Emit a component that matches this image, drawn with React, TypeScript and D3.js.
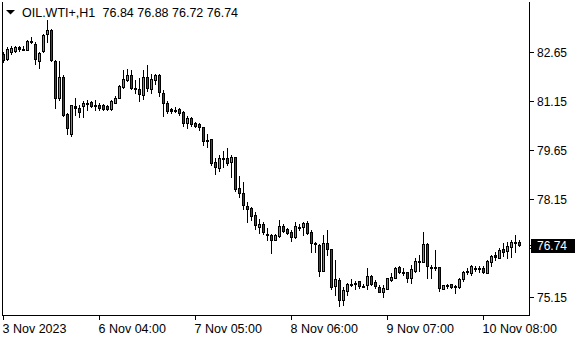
import React from "react";
import * as d3 from "d3";

const symbolLabel = "OIL.WTI+,H1";
const ohlcLabel = "76.84 76.88 76.72 76.74";
const lastPrice = 76.74;

const opens = [
  82.58, 82.43, 82.66, 82.69, 82.79, 82.75, 82.72, 82.99, 82.90, 82.38,
  82.67, 83.19, 83.31, 82.38, 81.23, 81.88, 80.74, 80.13, 81.00, 80.94,
  81.00, 81.05, 81.11, 81.03, 81.04, 81.02, 81.00, 80.89, 81.10, 81.24,
  81.58, 81.78, 81.94, 81.56, 81.53, 81.34, 81.87, 81.52, 81.78, 81.94,
  81.41, 81.09, 80.89, 80.86, 80.89, 80.80, 80.48, 80.64, 80.48, 80.44,
  80.34, 79.97, 79.98, 79.27, 79.11, 79.39, 79.40, 79.27, 79.43, 78.48,
  78.32, 77.95, 77.86, 77.65, 77.30, 77.37, 77.09, 77.06, 76.91, 77.02,
  77.32, 77.22, 77.14, 77.00, 77.30, 77.30, 77.41, 77.13, 76.79, 76.74,
  75.95, 76.79, 76.61, 75.49, 75.67, 75.06, 75.33, 75.51, 75.55, 75.63,
  75.49, 75.51, 75.79, 75.61, 75.47, 75.30, 75.41, 75.66, 75.74, 76.07,
  75.92, 75.91, 75.72, 75.96, 76.25, 76.23, 76.76, 76.08, 76.07, 76.07,
  75.41, 75.48, 75.56, 75.48, 75.46, 75.69, 75.95, 75.87, 76.04, 76.04,
  76.04, 75.90, 76.23, 76.38, 76.35, 76.61, 76.57, 76.67, 76.82, 76.84,
];
const highs = [
  82.64, 82.79, 82.82, 82.83, 82.83, 82.82, 83.01, 83.10, 82.95, 82.64,
  83.20, 83.62, 83.34, 82.40, 82.37, 81.96, 80.78, 81.02, 81.24, 81.02,
  81.14, 81.17, 81.14, 81.17, 81.08, 81.05, 81.03, 81.17, 81.29, 81.63,
  82.11, 82.14, 82.09, 81.78, 81.84, 82.09, 82.24, 81.97, 81.99, 81.99,
  81.48, 81.15, 80.94, 80.96, 80.94, 80.85, 80.70, 80.65, 80.52, 80.48,
  80.36, 80.13, 80.00, 79.42, 79.49, 79.62, 79.70, 79.51, 79.44, 78.85,
  78.66, 78.06, 77.91, 77.76, 77.55, 77.45, 77.25, 77.09, 77.09, 77.50,
  77.37, 77.27, 77.20, 77.45, 77.37, 77.45, 77.48, 77.20, 76.84, 76.76,
  77.04, 77.20, 76.63, 76.28, 75.72, 75.46, 75.57, 75.70, 75.63, 75.63,
  75.55, 76.03, 75.82, 75.67, 75.51, 75.51, 75.74, 75.90, 76.08, 76.11,
  76.03, 75.92, 76.12, 76.33, 76.45, 77.13, 76.79, 76.13, 76.58, 76.08,
  75.53, 75.56, 75.56, 75.51, 75.72, 75.95, 76.03, 76.12, 76.11, 76.11,
  76.09, 76.28, 76.45, 76.52, 76.64, 76.79, 76.84, 76.91, 77.04, 76.88,
];
const lows = [
  82.34, 82.40, 82.58, 82.65, 82.67, 82.70, 82.70, 82.92, 82.29, 82.15,
  82.66, 82.95, 82.37, 80.93, 81.17, 80.70, 80.13, 80.08, 80.71, 80.66,
  80.66, 80.87, 80.96, 80.87, 80.88, 80.88, 80.86, 80.87, 81.08, 81.23,
  81.54, 81.75, 81.51, 81.38, 81.15, 81.22, 81.46, 81.40, 81.68, 81.30,
  80.70, 80.78, 80.78, 80.80, 80.71, 80.39, 80.31, 80.39, 80.34, 80.26,
  79.80, 79.73, 79.18, 78.93, 79.01, 79.13, 79.18, 78.81, 78.40, 78.22,
  77.83, 77.45, 77.52, 77.22, 77.11, 77.07, 76.89, 76.49, 76.89, 76.99,
  77.14, 77.07, 76.87, 76.96, 77.19, 77.04, 77.07, 76.53, 76.53, 75.80,
  75.95, 76.43, 75.41, 75.21, 74.88, 74.90, 75.21, 75.49, 75.41, 75.43,
  75.47, 75.41, 75.51, 75.44, 75.29, 75.15, 75.39, 75.65, 75.72, 75.87,
  75.82, 75.60, 75.57, 75.92, 75.96, 76.22, 75.72, 75.72, 75.97, 75.34,
  75.39, 75.44, 75.43, 75.26, 75.43, 75.64, 75.85, 75.82, 75.94, 75.92,
  75.87, 75.87, 76.11, 76.28, 76.33, 76.41, 76.35, 76.38, 76.53, 76.72,
];
const closes = [
  82.40, 82.75, 82.78, 82.80, 82.73, 82.74, 82.98, 82.96, 82.43, 82.63,
  83.16, 83.31, 82.39, 81.24, 81.88, 80.73, 80.31, 81.02, 80.94, 80.82,
  81.10, 81.09, 81.00, 81.00, 80.94, 80.92, 80.89, 81.14, 81.24, 81.60,
  81.81, 81.94, 81.54, 81.51, 81.36, 81.87, 81.56, 81.81, 81.94, 81.43,
  81.09, 80.85, 80.85, 80.88, 80.78, 80.49, 80.64, 80.45, 80.40, 80.36,
  79.94, 79.94, 79.26, 79.13, 79.39, 79.36, 79.24, 79.43, 78.47, 78.32,
  77.98, 77.85, 77.63, 77.34, 77.38, 77.13, 77.06, 76.91, 77.04, 77.32,
  77.18, 77.12, 77.00, 77.32, 77.30, 77.40, 77.12, 76.79, 76.77, 75.94,
  76.79, 76.61, 75.46, 75.69, 75.06, 75.35, 75.54, 75.54, 75.57, 75.49,
  75.49, 75.79, 75.56, 75.49, 75.30, 75.43, 75.72, 75.75, 76.03, 75.92,
  75.92, 75.74, 76.00, 76.25, 76.25, 76.76, 76.09, 76.08, 76.07, 75.43,
  75.51, 75.53, 75.46, 75.48, 75.69, 75.92, 75.95, 76.09, 76.04, 76.04,
  75.92, 76.25, 76.40, 76.43, 76.60, 76.54, 76.72, 76.82, 76.79, 76.74,
];

const priceTicks = [82.65, 81.15, 79.65, 78.15, 76.65, 75.15];
const timeTickIndex = [0, 24, 48, 72, 96, 120];
const timeTickLabels = ["3 Nov 2023", "6 Nov 04:00", "7 Nov 05:00", "8 Nov 06:00", "9 Nov 07:00", "10 Nov 08:00"];

const W = 580;
const H = 340;
const FONT = "'Liberation Sans', Arial, sans-serif";

export default function App() {
  const n = opens.length;
  const x = d3.scaleLinear().domain([0, n - 1]).range([3.5, 3.5 + 4 * (n - 1)]);
  const y = d3.scaleLinear().domain([75.15, 82.65]).range([297, 52]);
  const yLast = y(lastPrice);

  const candles = d3.range(n).map((i) => {
    const o = opens[i], c = closes[i], h = highs[i], l = lows[i];
    const cx = x(i);
    let yt = Math.round(y(Math.max(o, c)));
    let yb = Math.round(y(Math.min(o, c)));
    if (yb - yt < 1) yb = yt + 1;
    const up = c > o;
    const down = c < o;
    const color = up ? "#00e600" : down ? "#e60000" : "#000";
    return (
      <g key={i}>
        <line x1={cx} x2={cx} y1={Math.round(y(h))} y2={Math.round(y(l)) + 1} stroke="#000" strokeWidth={1} />
        <rect x={cx - 1.5} y={yt} width={3} height={yb - yt + 1} fill="#000" />
        {yb - yt > 2 && (
          <rect x={cx - 0.5} y={yt + 1} width={1} height={yb - yt - 1} fill={color} />
        )}
      </g>
    );
  });

  // labels hidden behind the last-price box are not drawn
  const visibleTicks = priceTicks.filter((p) => Math.abs(y(p) - yLast) > 10);

  return (
    <div style={{ position: "fixed", left: 0, top: 0, width: W, height: H, background: "#fff" }}>
      <svg width={W} height={H} style={{ display: "block" }} shapeRendering="crispEdges">
        <rect x={0} y={0} width={W} height={H} fill="#fff" />
        <defs>
          <clipPath id="plot">
            <rect x={3} y={2} width={526} height={313} />
          </clipPath>
        </defs>
        <g clipPath="url(#plot)">{candles}</g>
        <line x1={2.5} x2={2.5} y1={2} y2={316} stroke="#000" />
        <line x1={529.5} x2={529.5} y1={2} y2={316} stroke="#000" />
        <line x1={2} x2={530} y1={315.5} y2={315.5} stroke="#000" />
        {priceTicks.map((p) => (
          <line key={"t" + p} x1={530} x2={534} y1={Math.round(y(p)) + 0.5} y2={Math.round(y(p)) + 0.5} stroke="#000" />
        ))}
        {visibleTicks.map((p) => (
          <text key={p} x={537} y={y(p) + 4.5} fontFamily={FONT} fontSize={12} fill="#000">
            {p.toFixed(2)}
          </text>
        ))}
        <line x1={530} x2={534} y1={Math.round(yLast) + 0.5} y2={Math.round(yLast) + 0.5} stroke="#000" />
        <rect x={531} y={Math.round(yLast) - 6} width={44} height={14} fill="#000" />
        <text x={537} y={yLast + 5} fontFamily={FONT} fontSize={12} fill="#fff">
          {lastPrice.toFixed(2)}
        </text>
        {timeTickIndex.map((ti, k) => (
          <g key={ti}>
            <line x1={x(ti)} x2={x(ti)} y1={316} y2={320} stroke="#000" />
            <text x={x(ti) - 1} y={333} fontFamily={FONT} fontSize={12.5} fill="#000">
              {timeTickLabels[k]}
            </text>
          </g>
        ))}
        <polygon points="6,10 15,10 10.5,14.5" fill="#000" shapeRendering="auto" />
        <text x={22} y={16.5} fontFamily={FONT} fontSize={12.5} fill="#000">
          {symbolLabel}
        </text>
        <text x={102.5} y={16.5} fontFamily={FONT} fontSize={12.5} fill="#000">
          {ohlcLabel}
        </text>
      </svg>
    </div>
  );
}
